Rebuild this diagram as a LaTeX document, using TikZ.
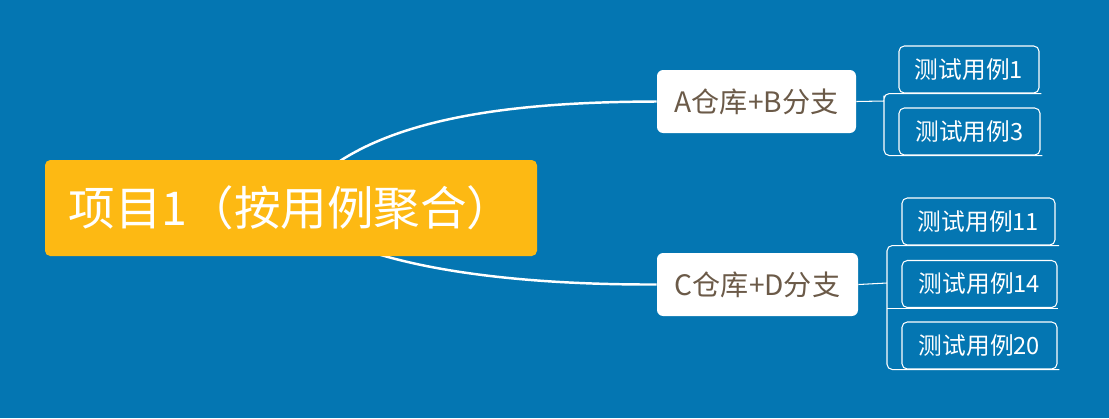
\documentclass[tikz,border=0pt]{standalone}
\usepackage{fontspec}
\usepackage{xcolor}
\usepackage{tikz}
\usetikzlibrary{backgrounds}
\newfontfamily\cjk{Noto Sans CJK SC}
\definecolor{mapBlue}{HTML}{0476B2}
\definecolor{mapGold}{HTML}{FDB913}
\definecolor{mapInk}{HTML}{6B5A48}

\begin{document}
\begin{tikzpicture}[font=\cjk,
  rootbox/.style={fill=mapGold,rounded corners=3pt,text=white,minimum width=9.84cm,minimum height=1.92cm,font=\cjk\fontsize{26.5}{31}\selectfont},
  branch/.style={fill=white,rounded corners=3.5pt,text=mapInk,minimum width=3.98cm,minimum height=1.26cm,font=\cjk\fontsize{16}{19}\selectfont},
  leaf/.style={draw=white,line width=0.6pt,rounded corners=3pt,text=white,minimum height=0.94cm,font=\cjk\fontsize{13.5}{16}\selectfont},
  link/.style={white,line width=1.4pt},
  thin/.style={white,line width=0.6pt}]
\useasboundingbox (0,0) rectangle (22.18,-8.36);
% main topic and branches
\node[rootbox] (root) at (5.82,-4.16) {项目1（按用例聚合）};
\node[branch] (bA) at (15.13,-2.03) {A仓库+B分支};
\node[branch,minimum width=4.02cm] (bC) at (15.15,-5.69) {C仓库+D分支};
% leaves
\node[leaf,minimum width=2.8cm] (t1) at (19.38,-1.39) {测试用例1};
\node[leaf,minimum width=2.82cm] (t3) at (19.39,-2.63) {测试用例3};
\node[leaf,minimum width=3.06cm] (t11) at (19.57,-4.43) {测试用例11};
\node[leaf,minimum width=3.1cm] (t14) at (19.59,-5.68) {测试用例14};
\node[leaf,minimum width=3.1cm] (t20) at (19.59,-6.91) {测试用例20};
\coordinate (jA) at (17.68,-2.02);
\coordinate (jC) at (17.74,-5.66);
\begin{scope}[on background layer]
\fill[mapBlue] (0,0) rectangle (22.18,-8.36);
\draw[link] (root.center) .. controls (7.0,-2.4) and (10.0,-2.04) .. (bA.west);
\draw[link] (root.center) .. controls (6.8,-5.2) and (9.6,-5.7) .. (bC.west);
\end{scope}
\draw[thin] (bA.east) -- (jA);
\draw[thin,rounded corners=3pt] ([xshift=1pt]t1.south east) -| (jA) |- ([xshift=1pt]t3.south east);
\draw[thin] (bC.east) -- (jC);
\draw[thin,rounded corners=3pt] ([xshift=2pt]t11.south east) -| (jC) |- ([xshift=1pt]t20.south east);
\draw[thin] (t14.south east) -- (t14.south east -| jC);
\end{tikzpicture}
\end{document}
